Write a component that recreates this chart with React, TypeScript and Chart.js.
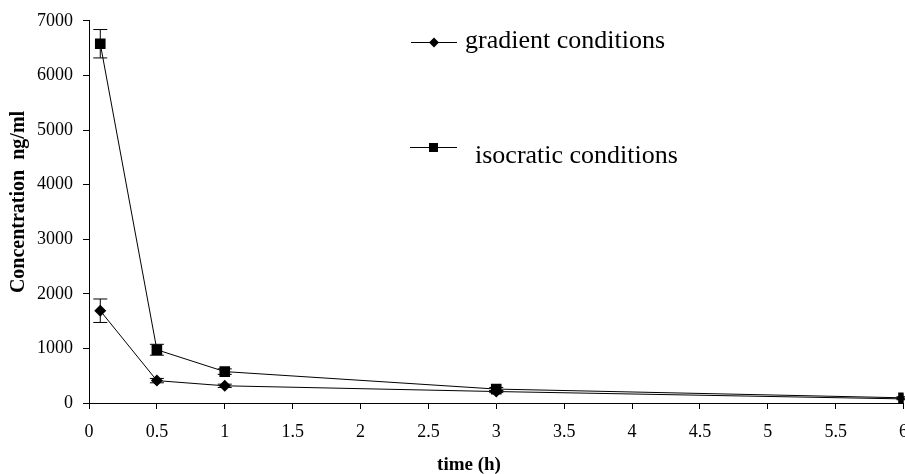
import React, { useEffect, useRef } from "react";
import { Chart, registerables } from "chart.js";

Chart.register(...registerables);

const timesH = [0.083, 0.5, 1, 3, 6];
const gradientValues = [1690, 410, 315, 210, 75];
const gradientErrors = [215, 40, 30, 20, 15];
const isocraticValues = [6580, 975, 575, 255, 95];
const isocraticErrors = [260, 100, 50, 30, 20];
const seriesNames = ["gradient conditions", "isocratic conditions"];
const xAxisTitle = "time (h)";
const yAxisTitle = "Concentration  ng/ml";

const FONT = "'Liberation Serif', 'Times New Roman', serif";

const errorBarPlugin = {
  id: "errorBars",
  afterDatasetsDraw(chart: any) {
    const { ctx } = chart;
    const x = chart.scales.x;
    const y = chart.scales.y;
    const sets = [
      { v: gradientValues, e: gradientErrors },
      { v: isocraticValues, e: isocraticErrors },
    ];
    ctx.save();
    ctx.strokeStyle = "#000";
    ctx.lineWidth = 1;
    sets.forEach((s) => {
      s.v.forEach((val, i) => {
        const px = x.getPixelForValue(timesH[i]);
        const top = y.getPixelForValue(val + s.e[i]);
        const bot = y.getPixelForValue(Math.max(0, val - s.e[i]));
        ctx.beginPath();
        ctx.moveTo(px, top);
        ctx.lineTo(px, bot);
        ctx.moveTo(px - 7, top);
        ctx.lineTo(px + 7, top);
        ctx.moveTo(px - 7, bot);
        ctx.lineTo(px + 7, bot);
        ctx.stroke();
      });
    });
    ctx.restore();
  },
};

const decorPlugin = {
  id: "decor",
  afterDraw(chart: any) {
    const { ctx } = chart;
    ctx.save();
    ctx.fillStyle = "#000";
    ctx.strokeStyle = "#000";
    ctx.lineWidth = 1;
    // legend entry 1
    ctx.beginPath();
    ctx.moveTo(411, 42.5);
    ctx.lineTo(457, 42.5);
    ctx.stroke();
    ctx.beginPath();
    ctx.moveTo(434, 37.5);
    ctx.lineTo(439, 42.5);
    ctx.lineTo(434, 47.5);
    ctx.lineTo(429, 42.5);
    ctx.closePath();
    ctx.fill();
    ctx.font = `26px ${FONT}`;
    ctx.textAlign = "left";
    ctx.textBaseline = "alphabetic";
    ctx.fillText(seriesNames[0], 465, 48);
    // legend entry 2
    ctx.beginPath();
    ctx.moveTo(410, 147.5);
    ctx.lineTo(457, 147.5);
    ctx.stroke();
    ctx.fillRect(429, 143, 9, 9);
    ctx.fillText(seriesNames[1], 475, 163);
    // x title
    ctx.font = `bold 19px ${FONT}`;
    ctx.textAlign = "center";
    ctx.fillText(xAxisTitle, 469, 470);
    // y title
    ctx.translate(24, 202);
    ctx.rotate(-Math.PI / 2);
    ctx.font = `bold 20px ${FONT}`;
    ctx.textAlign = "center";
    ctx.fillText(yAxisTitle, 0, 0);
    ctx.restore();
  },
};

export default function App() {
  const ref = useRef<HTMLCanvasElement | null>(null);
  useEffect(() => {
    if (!ref.current) return;
    const chart = new Chart(ref.current, {
      type: "line",
      data: {
        datasets: [
          {
            label: seriesNames[0],
            data: timesH.map((t, i) => ({ x: t, y: gradientValues[i] })),
            borderColor: "#000",
            backgroundColor: "#000",
            borderWidth: 1,
            pointStyle: "rectRot",
            pointRadius: 6,
            pointBorderWidth: 0,
            tension: 0,
          },
          {
            label: seriesNames[1],
            data: timesH.map((t, i) => ({ x: t, y: isocraticValues[i] })),
            borderColor: "#000",
            backgroundColor: "#000",
            borderWidth: 1,
            pointStyle: "rect",
            pointRadius: 7.5,
            pointBorderWidth: 0,
            tension: 0,
          },
        ],
      },
      options: {
        animation: false,
        responsive: false,
        devicePixelRatio: 1,
        layout: { padding: { top: 20, right: 14, left: 0, bottom: 0 } },
        plugins: {
          legend: { display: false },
          tooltip: { enabled: false },
        },
        scales: {
          x: {
            type: "linear",
            min: 0,
            max: 6,
            ticks: {
              stepSize: 0.5,
              color: "#000",
              font: { family: FONT, size: 18 },
              padding: 12,
              maxRotation: 0,
              autoSkip: false,
              callback: (v: any) => String(v),
            },
            grid: {
              display: true,
              drawOnChartArea: false,
              drawTicks: true,
              tickLength: 6,
              color: "#000",
            },
            border: { display: true, color: "#000", width: 1 },
            afterFit: (s: any) => {
              s.height = 71;
            },
          },
          y: {
            min: 0,
            max: 7000,
            ticks: {
              stepSize: 1000,
              color: "#000",
              font: { family: FONT, size: 18 },
              padding: 10,
              callback: (v: any) => String(v),
            },
            grid: {
              display: true,
              drawOnChartArea: false,
              drawTicks: true,
              tickLength: 6,
              color: "#000",
            },
            border: { display: true, color: "#000", width: 1 },
            afterFit: (s: any) => {
              s.width = 89;
            },
          },
        },
      },
      plugins: [errorBarPlugin, decorPlugin],
    });
    return () => chart.destroy();
  }, []);
  return (
    <canvas
      ref={ref}
      width={920}
      height={474}
      style={{ position: "fixed", left: 0, top: 0, width: 920, height: 474, background: "#fff" }}
    />
  );
}
